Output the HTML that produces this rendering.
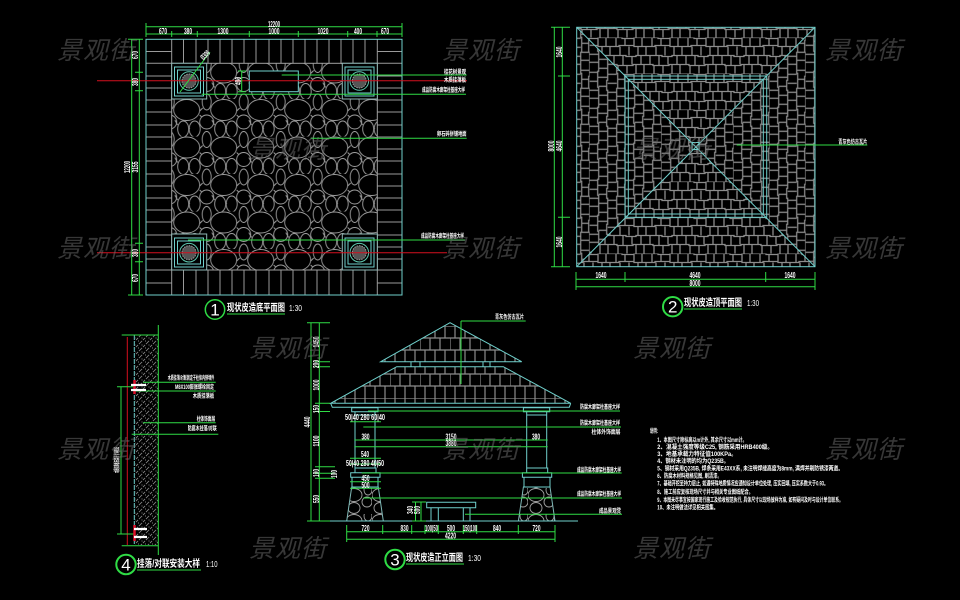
<!DOCTYPE html>
<html>
<head>
<meta charset="utf-8">
<style>
html,body{margin:0;padding:0;background:#000;width:960px;height:600px;overflow:hidden}
svg{display:block;filter:blur(.3px)}
text{font-family:"Liberation Sans","Noto Sans CJK SC",sans-serif;fill:#fff}
.n{font-size:8px;text-anchor:middle;font-weight:bold}
.l{font-size:6px;font-weight:bold}
.t{font-size:10px;font-weight:bold}
.s{font-size:8px}
.c{font-size:17px;text-anchor:middle}
.m{font-size:6.2px;font-weight:bold}
.w{font-size:25px;font-style:italic;fill:#6e6e6e;fill-opacity:.5;letter-spacing:1px}
.g{stroke:#2fdc45;fill:none;stroke-width:1}
.b{stroke:#6fd0cc;fill:none;stroke-width:1}
.r{stroke:#d4101f;fill:none;stroke-width:1}
.y{stroke:#9a9a9a;fill:none;stroke-width:1}
</style>
</head>
<body>
<svg width="960" height="600" viewBox="0 0 960 600" xmlns="http://www.w3.org/2000/svg">
<defs>
<pattern id="peb" patternUnits="userSpaceOnUse" x="174.7" y="99" width="37" height="37.5">
<g fill="none" stroke="#a0a0a0" stroke-width=".9">
<ellipse cx="12" cy="11" rx="13" ry="10.5"/>
<ellipse cx="49" cy="11" rx="13" ry="10.5"/>
<circle cx="32" cy="23" r="7"/>
<circle cx="-5" cy="23" r="7"/>
<ellipse cx="20" cy="30" rx="5.5" ry="8"/>
<ellipse cx="32" cy="3" rx="4.5" ry="8"/>
<ellipse cx="32" cy="40.5" rx="4.5" ry="8"/>
<ellipse cx="8.5" cy="30" rx="5.5" ry="8"/>
<path d="M25 12L28 9M0 21L3 26M25 16L27 18M14 28L15 30"/>
</g>
</pattern>
<pattern id="peb2" patternUnits="userSpaceOnUse" x="346" y="488" width="26" height="26">
<g fill="none" stroke="#a0a0a0" stroke-width=".9">
<ellipse cx="8" cy="7" rx="8" ry="6.5"/>
<circle cx="21" cy="14" r="5"/>
<ellipse cx="8" cy="20" rx="6" ry="5.5"/>
<ellipse cx="22" cy="2" rx="4" ry="5"/>
</g>
</pattern>
<pattern id="bh" patternUnits="userSpaceOnUse" x="0" y="1.5" width="36" height="36">
<path fill="none" stroke="#8c8c8c" stroke-width="1.3" d="M0 0h10v1h12v-1h14M0 9h7v-1h15v1h14M0 18h14v1h10v-1h12M0 27h5v1h16v-1h15M4 0v9M13 1v7M22 0v9M30 0v9M8 9v9M17 9v9M26 9v9M34 9v9M2 18v9M11 18v10M20 19v8M29 18v9M6 28v8M15 28v8M24 27v9M32 27v9"/>
</pattern>
<pattern id="bv" patternUnits="userSpaceOnUse" x="4" y="0" width="36" height="36" patternTransform="rotate(90 695.7 146)">
<path fill="none" stroke="#8c8c8c" stroke-width="1.3" d="M0 0h10v1h12v-1h14M0 9h7v-1h15v1h14M0 18h14v1h10v-1h12M0 27h5v1h16v-1h15M4 0v9M13 1v7M22 0v9M30 0v9M8 9v9M17 9v9M26 9v9M34 9v9M2 18v9M11 18v10M20 19v8M29 18v9M6 28v8M15 28v8M24 27v9M32 27v9"/>
</pattern>
<pattern id="br" patternUnits="userSpaceOnUse" x="0" y="2" width="30" height="36">
<path fill="none" stroke="#8c8c8c" stroke-width="1.2" d="M0 0h30M0 12h30M0 24h30M5 0v12M15 0v12M25 0v12M0 12v12M10 12v12M20 12v12M5 24v12M15 24v12M25 24v12"/>
</pattern>
<pattern id="ha" patternUnits="userSpaceOnUse" width="7" height="7">
<path d="M0 7L7 0M-2 2L2 -2M5 9L9 5" stroke="#8c8c8c" stroke-width=".8" stroke-dasharray="3 1.2" fill="none"/>
<circle cx="2" cy="2" r=".5" fill="#aaa"/><circle cx="5.5" cy="5" r=".5" fill="#aaa"/>
</pattern>
</defs>
<rect width="960" height="600" fill="#000"/>

<!-- PLAN 1 -->
<rect x="171.7" y="63.3" width="205.6" height="206.7" fill="url(#peb)"/>
<path class="y" stroke-width=".9" d="M146 51.5h25.7M146 63.3h25.7M146 76h25.7M146 88h25.7M146 100h25.7M146 112h25.7M146 125h25.7M146 137h25.7M146 149h25.7M146 161h25.7M146 174h25.7M146 186h25.7M146 198h25.7M146 210h25.7M146 222h25.7M146 235h25.7M146 247h25.7M146 259h25.7M146 270h25.7M146 283h25.7M377.3 51.5h24.7M377.3 63.3h24.7M377.3 76h24.7M377.3 88h24.7M377.3 100h24.7M377.3 112h24.7M377.3 125h24.7M377.3 137h24.7M377.3 149h24.7M377.3 161h24.7M377.3 174h24.7M377.3 186h24.7M377.3 198h24.7M377.3 210h24.7M377.3 222h24.7M377.3 235h24.7M377.3 247h24.7M377.3 259h24.7M377.3 270h24.7M377.3 283h24.7"/>
<path class="y" stroke-width=".9" d="M171.7 39v24.3M183.5 39v24.3M196 39v24.3M208 39v24.3M220 39v24.3M232 39v24.3M244 39v24.3M256 39v24.3M269 39v24.3M281 39v24.3M293 39v24.3M305 39v24.3M317 39v24.3M329 39v24.3M341 39v24.3M353 39v24.3M365 39v24.3M377.3 39v24.3M171.7 270v25M183.5 270v25M196 270v25M208 270v25M220 270v25M232 270v25M244 270v25M256 270v25M269 270v25M281 270v25M293 270v25M305 270v25M317 270v25M329 270v25M341 270v25M353 270v25M365 270v25M377.3 270v25"/>
<rect class="b" x="146" y="39.3" width="256" height="255.7"/>
<rect x="171.7" y="63.3" width="205.6" height="206.7" fill="none" stroke="#a0a0a0"/>
<!-- corners -->
<g id="corners">
<rect x="171.7" y="63.3" width="35" height="35.7" fill="#000" stroke="#8fb8b6"/>
<rect class="b" x="174.5" y="67" width="29" height="29"/>
<rect class="b" x="177.5" y="70" width="23" height="23"/>
<circle cx="189" cy="81" r="9.3" fill="#000" stroke="#5fc8b0"/>
<circle cx="189" cy="81" r="7" fill="#555" stroke="#999" stroke-dasharray="1.5 1"/>
<rect x="342.3" y="63.3" width="35" height="35.7" fill="#000" stroke="#8fb8b6"/>
<rect class="b" x="345" y="67" width="29" height="29"/>
<rect class="b" x="348" y="70" width="23" height="23"/>
<circle cx="359.3" cy="81" r="9.3" fill="#000" stroke="#5fc8b0"/>
<circle cx="359.3" cy="81" r="7" fill="#555" stroke="#999" stroke-dasharray="1.5 1"/>
<rect x="171.7" y="234" width="35" height="36" fill="#000" stroke="#8fb8b6"/>
<rect class="b" x="174.5" y="238" width="29" height="29"/>
<rect class="b" x="177.5" y="241" width="23" height="23"/>
<circle cx="189" cy="252.7" r="9.3" fill="#000" stroke="#5fc8b0"/>
<circle cx="189" cy="252.7" r="7" fill="#555" stroke="#999" stroke-dasharray="1.5 1"/>
<rect x="342.3" y="234" width="35" height="36" fill="#000" stroke="#8fb8b6"/>
<rect class="b" x="345" y="238" width="29" height="29"/>
<rect class="b" x="348" y="241" width="23" height="23"/>
<circle cx="359.3" cy="252.7" r="9.3" fill="#000" stroke="#5fc8b0"/>
<circle cx="359.3" cy="252.7" r="7" fill="#555" stroke="#999" stroke-dasharray="1.5 1"/>
</g>
<rect x="249.3" y="71" width="49" height="20.7" fill="#000" stroke="#6fd0cc"/>
<path class="r" d="M97 80.7H467M97 252.7H447"/>
<path class="g" d="M281.7 75H466.7M201.7 94.3H466M310.7 138.3H466.7M188 240H465M146 26.7H402M146 34H402M131.7 39V295M139.3 39V295M241.7 71V91.7M180 92L210 52M345 94.3H377M146 23V37M171.7 31V37M197.3 31V37M249.3 31V37M298.3 31V37M347.7 31V37M377 31V37M402 23V37M128 39.3H143M135 72.3H143M135 90.7H143M135 243.3H143M135 261.7H143M128 295H143M238 71H246M238 91.7H246"/>
<g>
<text class="n" x="163" y="34" textLength="8" lengthAdjust="spacingAndGlyphs">670</text><text class="n" x="188" y="34" textLength="8" lengthAdjust="spacingAndGlyphs">380</text><text class="n" x="223" y="34" textLength="11" lengthAdjust="spacingAndGlyphs">1300</text><text class="n" x="274" y="34" textLength="11" lengthAdjust="spacingAndGlyphs">1000</text><text class="n" x="323" y="34" textLength="11" lengthAdjust="spacingAndGlyphs">1020</text><text class="n" x="358" y="34" textLength="8" lengthAdjust="spacingAndGlyphs">400</text><text class="n" x="385" y="34" textLength="8" lengthAdjust="spacingAndGlyphs">670</text><text class="n" x="274" y="27" textLength="12" lengthAdjust="spacingAndGlyphs">12200</text>
<text class="n" transform="translate(138 55) rotate(-90)" textLength="8" lengthAdjust="spacingAndGlyphs">670</text><text class="n" transform="translate(138 82) rotate(-90)" textLength="8" lengthAdjust="spacingAndGlyphs">380</text><text class="n" transform="translate(138 167) rotate(-90)" textLength="11" lengthAdjust="spacingAndGlyphs">3155</text><text class="n" transform="translate(130 167) rotate(-90)" textLength="12" lengthAdjust="spacingAndGlyphs">12200</text><text class="n" transform="translate(138 253) rotate(-90)" textLength="8" lengthAdjust="spacingAndGlyphs">380</text><text class="n" transform="translate(138 278) rotate(-90)" textLength="8" lengthAdjust="spacingAndGlyphs">670</text><text class="n" transform="translate(241 81) rotate(-90)" textLength="8" lengthAdjust="spacingAndGlyphs">400</text>
<text class="n" transform="translate(207 57) rotate(-45)" textLength="10" lengthAdjust="spacingAndGlyphs">Ø300</text>
<text class="l" x="444" y="74" textLength="22" lengthAdjust="spacingAndGlyphs">桂花树景观</text>
<text class="l" x="444" y="82" textLength="22" lengthAdjust="spacingAndGlyphs">木质挂落板</text>
<text class="l" x="422" y="92" textLength="43" lengthAdjust="spacingAndGlyphs">成品防腐木廊架柱基座大样</text>
<text class="l" x="437" y="136" textLength="29.5" lengthAdjust="spacingAndGlyphs">卵石碎拼铺地面</text>
<text class="l" x="421" y="238" textLength="43" lengthAdjust="spacingAndGlyphs">成品防腐木廊架柱基座大样</text>
</g>
<circle cx="215" cy="309.5" r="9.7" fill="none" stroke="#2fdc45" stroke-width="1.5"/>
<text class="c" x="215" y="315.5">1</text>
<text class="t" x="227" y="311" textLength="58" lengthAdjust="spacingAndGlyphs">现状皮造底平面图</text>
<path class="g" stroke-width="1.5" d="M227 314H285"/>
<text class="s" x="289" y="311" textLength="13" lengthAdjust="spacingAndGlyphs">1:30</text>

<!-- PLAN 2 -->
<polygon points="576.7,27.3 815,27.3 695.7,146" fill="url(#bh)"/>
<polygon points="576.7,266.7 815,266.7 695.7,146" fill="url(#bh)"/>
<polygon points="576.7,27.3 576.7,266.7 695.7,146" fill="url(#bv)"/>
<polygon points="815,27.3 815,266.7 695.7,146" fill="url(#bv)"/>
<rect class="b" x="576.7" y="27.3" width="238.3" height="239.4"/>
<path class="b" stroke-width=".8" d="M576.7 27.3L815 266.7M815 27.3L576.7 266.7"/>
<rect class="b" x="625" y="76" width="141.7" height="141.3"/>
<rect class="b" x="628.3" y="79.3" width="135" height="134.7"/>
<rect class="b" x="692" y="142.5" width="7" height="7"/>
<path class="g" d="M554.3 27.3V266.7M562.3 27.3V266.7M551 27.3H570M558 76H570M558 217.3H570M551 266.7H570M576 279.3H815M576 286.7H815M576 272V290M625 272V282M765.7 272V282M815 272V290M736.7 145H867.3"/>
<g>
<text class="n" transform="translate(562 52) rotate(-90)" textLength="11" lengthAdjust="spacingAndGlyphs">1640</text><text class="n" transform="translate(562 146) rotate(-90)" textLength="11" lengthAdjust="spacingAndGlyphs">4640</text><text class="n" transform="translate(562 242) rotate(-90)" textLength="11" lengthAdjust="spacingAndGlyphs">1640</text><text class="n" transform="translate(554 146) rotate(-90)" textLength="11" lengthAdjust="spacingAndGlyphs">8000</text>
<text class="n" x="601" y="278" textLength="11" lengthAdjust="spacingAndGlyphs">1640</text><text class="n" x="695" y="278" textLength="11" lengthAdjust="spacingAndGlyphs">4640</text><text class="n" x="790" y="278" textLength="11" lengthAdjust="spacingAndGlyphs">1640</text><text class="n" x="695" y="286" textLength="11" lengthAdjust="spacingAndGlyphs">8000</text>
<text class="l" x="838.3" y="144" textLength="29" lengthAdjust="spacingAndGlyphs">青灰色仿古瓦片</text>
</g>
<circle cx="672.7" cy="306.7" r="9.7" fill="none" stroke="#2fdc45" stroke-width="2"/>
<text class="c" x="672.7" y="312.5">2</text>
<text class="t" x="684" y="306" textLength="58" lengthAdjust="spacingAndGlyphs">现状皮造顶平面图</text>
<path class="g" stroke-width="1.5" d="M684 309H742"/>
<text class="s" x="747" y="306" textLength="12" lengthAdjust="spacingAndGlyphs">1:30</text>

<!-- ELEVATION 3 -->
<polygon points="450,322.7 521.7,361.7 380.7,361.7" fill="url(#br)" stroke="#6fd0cc"/>
<polygon points="396.7,366.7 503.3,366.7 570.7,403.3 330.7,403.3" fill="url(#br)" stroke="#6fd0cc"/>
<path class="b" d="M330.7 403.3L332.3 407.3H569.3L570.7 403.3M411 361.7V366.7M420 361.7V366.7M483 361.7V366.7M490 361.7V366.7"/>
<!-- left column -->
<polygon points="351.7,487 378.3,487 383.3,521 346.7,521" fill="url(#peb2)" stroke="#7fb8b6"/>
<path class="b" d="M351.7 407.7H378V411.7H351.7ZM355 411.7H375V415H355ZM355 415V468M375 415V468M355 468H376V472.7H355ZM350.7 472.7H380V477.3H350.7ZM352 477.3H378V487H352Z"/>
<!-- right column -->
<polygon points="523.4,487 550,487 555,521 518.4,521" fill="url(#peb2)" stroke="#7fb8b6"/>
<path class="b" d="M523.4 407.7H549.7V411.7H523.4ZM526.7 411.7H546.7V415H526.7ZM526.7 415V468M546.7 415V468M526.7 468H547.7V472.7H526.7ZM522.4 472.7H551.7V477.3H522.4ZM524 477.3H550V487H524Z"/>
<!-- bench -->
<path class="b" d="M426.7 502.3H475.7V507.7H426.7ZM431 507.7V521M438.3 507.7V521M463.3 507.7V521M470 507.7V521"/>
<path class="b" d="M310.7 521H578"/>
<path class="g" d="M461 321H525.7M461 321V384M368 411H620M363.3 427H621M354.3 440H547.7M354.3 446.7H547.7M361.7 473H621.7M363.3 498H622M465 514.3H622M350 421.7H381M350 458.3H381M350 464H381M350 481.7H381M350 488.3H381M311 322.7V521M319.3 322.7V521M307 322.7H330M315 361.7H330M315 366.7H330M315 403.3H330M315 411.5H330M315 466.7H335M315 473.3H335M315 478.3H335M307 521H330M346.7 531.7H555M346.7 539.3H555M346.7 525V542M382.7 525V534M411.7 525V534M425 525V534M438.3 525V534M463.3 525V534M476.7 525V534M518.3 525V534M555 525V542M415.5 502V521M421 502V521M412 502H426M412 521H426"/>
<g>
<text class="n" x="365" y="420" textLength="40" lengthAdjust="spacingAndGlyphs">50|40 280 60|40</text>
<text class="n" x="365.5" y="439.5" textLength="8" lengthAdjust="spacingAndGlyphs">380</text><text class="n" x="536" y="439.5" textLength="8" lengthAdjust="spacingAndGlyphs">380</text>
<text class="n" x="451" y="439.5" textLength="11" lengthAdjust="spacingAndGlyphs">3150</text><text class="n" x="451" y="446" textLength="11" lengthAdjust="spacingAndGlyphs">3880</text>
<text class="n" x="365" y="457" textLength="8" lengthAdjust="spacingAndGlyphs">540</text>
<text class="n" x="365" y="466" textLength="38" lengthAdjust="spacingAndGlyphs">50|40 280 40|50</text>
<text class="n" x="365.5" y="481" textLength="8" lengthAdjust="spacingAndGlyphs">450</text>
<text class="n" x="365.5" y="488" textLength="8" lengthAdjust="spacingAndGlyphs">500</text>
<text class="n" x="365.5" y="531" textLength="8" lengthAdjust="spacingAndGlyphs">720</text><text class="n" x="404.5" y="531" textLength="8" lengthAdjust="spacingAndGlyphs">830</text><text class="n" x="431.5" y="531" textLength="13" lengthAdjust="spacingAndGlyphs">100|50</text><text class="n" x="451" y="531" textLength="8" lengthAdjust="spacingAndGlyphs">500</text><text class="n" x="470" y="531" textLength="14" lengthAdjust="spacingAndGlyphs">150|100</text><text class="n" x="497" y="531" textLength="8" lengthAdjust="spacingAndGlyphs">840</text><text class="n" x="536.5" y="531" textLength="8" lengthAdjust="spacingAndGlyphs">720</text><text class="n" x="450.5" y="538.5" textLength="11" lengthAdjust="spacingAndGlyphs">4220</text>
<text class="n" transform="translate(319 342) rotate(-90)" textLength="11" lengthAdjust="spacingAndGlyphs">1450</text><text class="n" transform="translate(319 364) rotate(-90)" textLength="8" lengthAdjust="spacingAndGlyphs">200</text><text class="n" transform="translate(319 385) rotate(-90)" textLength="11" lengthAdjust="spacingAndGlyphs">1000</text><text class="n" transform="translate(319 409) rotate(-90)" textLength="8" lengthAdjust="spacingAndGlyphs">150</text><text class="n" transform="translate(319 441) rotate(-90)" textLength="11" lengthAdjust="spacingAndGlyphs">1100</text><text class="n" transform="translate(319 473) rotate(-90)" textLength="8" lengthAdjust="spacingAndGlyphs">100</text><text class="n" transform="translate(319 499) rotate(-90)" textLength="8" lengthAdjust="spacingAndGlyphs">550</text><text class="n" transform="translate(310 422) rotate(-90)" textLength="11" lengthAdjust="spacingAndGlyphs">4440</text>
<text class="n" transform="translate(337 474) rotate(-90)" textLength="8" lengthAdjust="spacingAndGlyphs">100</text><text class="n" transform="translate(413 510) rotate(-90)" textLength="8" lengthAdjust="spacingAndGlyphs">340</text><text class="n" transform="translate(420 510) rotate(-90)" textLength="8" lengthAdjust="spacingAndGlyphs">500</text>
<text class="l" x="495" y="319" textLength="29" lengthAdjust="spacingAndGlyphs">青灰色仿古瓦片</text>
<text class="l" x="580" y="409" textLength="40" lengthAdjust="spacingAndGlyphs">防腐木廊架柱基座大样</text>
<text class="l" x="580" y="425" textLength="40" lengthAdjust="spacingAndGlyphs">防腐木廊架柱基座大样</text>
<text class="l" x="591.5" y="434" textLength="29" lengthAdjust="spacingAndGlyphs">柱体外饰面层</text>
<text class="l" x="577" y="472" textLength="44" lengthAdjust="spacingAndGlyphs">成品防腐木廊架柱基座大样</text>
<text class="l" x="577" y="496" textLength="44" lengthAdjust="spacingAndGlyphs">成品防腐木廊架柱基座大样</text>
<text class="l" x="599" y="513" textLength="22" lengthAdjust="spacingAndGlyphs">成品景观凳</text>
</g>
<circle cx="395" cy="559.5" r="9.7" fill="none" stroke="#2fdc45" stroke-width="2"/>
<text class="c" x="395" y="565.5">3</text>
<text class="t" x="406" y="561" textLength="57" lengthAdjust="spacingAndGlyphs">现状皮造正立面图</text>
<path class="g" stroke-width="1.5" d="M406 564H464"/>
<text class="s" x="468" y="561" textLength="13" lengthAdjust="spacingAndGlyphs">1:30</text>

<!-- DETAIL 4 -->
<rect x="135" y="335" width="23" height="210" fill="url(#ha)"/>
<path class="r" d="M127.3 337V545"/>
<path class="b" d="M134.3 335V545" stroke-dasharray="5 1"/>
<path class="g" d="M158.3 325V555M121.7 335H158M121.7 545.7H158M143 382.3H215.7M135 391H215.7M143 422.7H215.7M131.7 434.3H218.3M121 386.7V534M117 386.7H135M117 534H135"/>
<path d="M134.5 380V394M134.5 525V541" stroke="#e0102a" stroke-width="2.5"/>
<path d="M131 385H146M131 390H146M134 529H147M134 537H147" stroke="#fff" stroke-width="2.2"/>
<text class="n" transform="translate(119 460) rotate(-90)" style="font-size:6px" textLength="26" lengthAdjust="spacingAndGlyphs">木质挂落板安装尺寸详图纸</text>
<text class="l" x="167.7" y="380" textLength="46.5" lengthAdjust="spacingAndGlyphs">木质挂落/对联固定于柱体内预埋件</text>
<text class="l" x="175" y="389" textLength="39" lengthAdjust="spacingAndGlyphs">M8X100膨胀螺栓固定</text>
<text class="l" x="192.7" y="398" textLength="21.5" lengthAdjust="spacingAndGlyphs">木质挂落板</text>
<text class="l" x="196.7" y="421" textLength="18.5" lengthAdjust="spacingAndGlyphs">柱体饰面层</text>
<text class="l" x="187.7" y="430.5" textLength="29" lengthAdjust="spacingAndGlyphs">防腐木挂落/对联</text>
<circle cx="126" cy="564.5" r="9.7" fill="none" stroke="#2fdc45" stroke-width="2"/>
<text class="c" x="126" y="570.5">4</text>
<text class="t" x="137" y="567" textLength="63" lengthAdjust="spacingAndGlyphs">挂落/对联安装大样</text>
<path class="g" stroke-width="1.5" d="M137 570H201"/>
<text class="s" x="206" y="567" textLength="11.5" lengthAdjust="spacingAndGlyphs">1:10</text>

<!-- NOTES -->
<g>
<text class="m" x="650" y="433" textLength="8" lengthAdjust="spacingAndGlyphs">说明:</text>
<text class="m" x="657.3" y="442" textLength="89.4" lengthAdjust="spacingAndGlyphs">1、本图尺寸除标高以m计外, 其余尺寸以mm计。</text>
<text class="m" x="657.3" y="449" textLength="115.7" lengthAdjust="spacingAndGlyphs">2、混凝土强度等级C25, 钢筋采用HRB400级。</text>
<text class="m" x="657.3" y="456" textLength="79.4" lengthAdjust="spacingAndGlyphs">3、地基承载力特征值100KPa。</text>
<text class="m" x="657.3" y="463" textLength="71.7" lengthAdjust="spacingAndGlyphs">4、钢材未注明的均为Q235B。</text>
<text class="m" x="657.3" y="470.5" textLength="185.7" lengthAdjust="spacingAndGlyphs">5、钢材采用Q235B, 焊条采用E43XX系, 未注明焊缝高度为8mm, 满焊并刷防锈漆两道。</text>
<text class="m" x="657.3" y="478" textLength="64.4" lengthAdjust="spacingAndGlyphs">6、防腐木材料规格见图, 刷清漆。</text>
<text class="m" x="657.3" y="485.5" textLength="170.7" lengthAdjust="spacingAndGlyphs">7、基础开挖至持力层止, 如遇特殊地质情况应通知设计单位处理, 压实回填, 压实系数大于0.93。</text>
<text class="m" x="657.3" y="494" textLength="95.7" lengthAdjust="spacingAndGlyphs">8、施工前应复核现场尺寸并与相关专业图纸配合。</text>
<text class="m" x="657.3" y="502" textLength="185.7" lengthAdjust="spacingAndGlyphs">9、本图未尽事宜按国家现行施工及验收规范执行, 具体尺寸以现场放样为准, 如有疑问及时与设计单位联系。</text>
<text class="m" x="657.3" y="509.5" textLength="60.7" lengthAdjust="spacingAndGlyphs">10、未注明做法详见相关图集。</text>
</g>

<!-- WATERMARKS -->
<g>
<text class="w" x="57" y="59">景观街</text><text class="w" x="442" y="59">景观街</text><text class="w" x="825" y="59">景观街</text>
<text class="w" x="249" y="158">景观街</text><text class="w" x="633" y="158">景观街</text>
<text class="w" x="57" y="257">景观街</text><text class="w" x="442" y="257">景观街</text><text class="w" x="825" y="257">景观街</text>
<text class="w" x="249" y="357">景观街</text><text class="w" x="633" y="357">景观街</text>
<text class="w" x="57" y="458">景观街</text><text class="w" x="442" y="458">景观街</text><text class="w" x="825" y="458">景观街</text>
<text class="w" x="249" y="557">景观街</text><text class="w" x="633" y="557">景观街</text>
</g>
</svg>
</body>
</html>
